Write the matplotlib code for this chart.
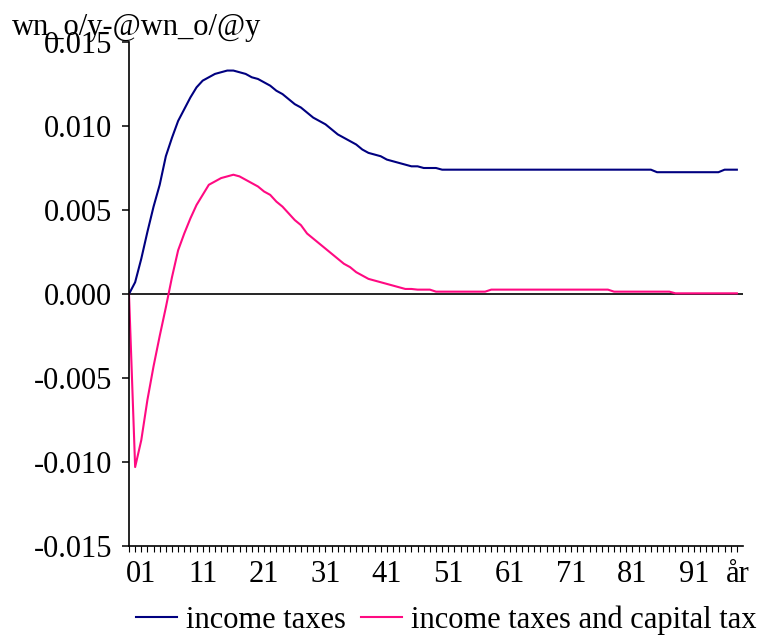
import numpy as np
import matplotlib
matplotlib.use('Agg')
import matplotlib.pyplot as plt
from matplotlib.ticker import FixedLocator, FuncFormatter

plt.rcParams.update({
    'font.family': 'Liberation Serif',
    'font.size': 22,
    'axes.unicode_minus': False,
})

# years 1999..2098, one value per year
years = np.arange(1999, 2099)

income_taxes = [
    0.0000, 0.0007, 0.0021, 0.0037, 0.0052, 0.0065, 0.0082, 0.0093, 0.0103, 0.0110,
    0.0117, 0.0123, 0.0127, 0.0129, 0.0131, 0.0132, 0.0133, 0.0133, 0.0132, 0.0131,
    0.0129, 0.0128, 0.0126, 0.0124, 0.0121, 0.0119, 0.0116, 0.0113, 0.0111, 0.0108,
    0.0105, 0.0103, 0.0101, 0.0098, 0.0095, 0.0093, 0.0091, 0.0089, 0.0086, 0.0084,
    0.0083, 0.0082, 0.0080, 0.0079, 0.0078, 0.0077, 0.0076, 0.0076, 0.0075, 0.0075,
    0.0075, 0.0074,
] + [0.0074] * 34 + [0.00725] * 11 + [0.0074] * 3

income_capital_tax = [
    0.0000, -0.0103, -0.0087, -0.0063, -0.0043, -0.0025, -0.0008, 0.0010, 0.0026, 0.0036,
    0.0045, 0.0053, 0.0059, 0.0065, 0.0067, 0.0069, 0.0070, 0.0071, 0.0070, 0.0068,
    0.0066, 0.0064, 0.0061, 0.0059, 0.0055, 0.0052, 0.0048, 0.0044, 0.0041, 0.0036,
    0.0033, 0.0030, 0.0027, 0.0024, 0.0021, 0.0018, 0.0016, 0.0013, 0.0011, 0.0009,
    0.0008, 0.0007, 0.0006, 0.0005, 0.0004, 0.0003, 0.0003, 0.00026, 0.00026, 0.00026,
] + [0.00014] * 9 + [0.00026] * 20 + [0.00014] * 10 + [0.00004] * 11

label_years = list(range(2001, 2096, 10))
x_labels = [f"{y % 100:02d}" for y in label_years]
y_ticks = [-0.015, -0.010, -0.005, 0.0, 0.005, 0.010, 0.015]

title = 'wn_o/y-@wn_o/@y'
year_label = 'år'
series_names = ['income taxes', 'income taxes and capital tax']
COL_BLUE = '#000080'
COL_PINK = '#ff0a82'

fig = plt.figure(figsize=(7.63, 6.35), dpi=100)
ax = fig.add_axes([129 / 763, 89 / 635, 614 / 763, 504 / 635])

ax.axhline(0, color='black', lw=1.2, zorder=1)
ax.plot(years, income_taxes, color=COL_BLUE, lw=1.5, label=series_names[0], zorder=2)
ax.plot(years, income_capital_tax, color=COL_PINK, lw=1.5, label=series_names[1], zorder=2)

ax.set_xlim(1999, 2099)
ax.set_ylim(-0.015, 0.015)

for s in ('top', 'right'):
    ax.spines[s].set_visible(False)
for s in ('left', 'bottom'):
    ax.spines[s].set_linewidth(1.2)

# "år" sits in the tick-label row at the right end, with no tick of its own
ax.xaxis.set_major_locator(FixedLocator(label_years + [2098.1]))
ax.set_xticklabels(x_labels + [year_label])
ax.xaxis.set_minor_locator(FixedLocator(years))
ax.tick_params(axis='x', which='both', direction='out', length=4.3, width=0.8, pad=6)
ax.xaxis.get_major_ticks()[-1].tick1line.set_visible(False)
ax.set_yticks(y_ticks)
ax.yaxis.set_major_formatter(FuncFormatter(lambda v, p: f"{v:.3f}".replace('-0.000', '0.000')))
ax.tick_params(axis='y', direction='out', length=5, width=1.1, pad=7)

fig.text(12 / 763, 1 - 35 / 635, title, ha='left', va='baseline')

fig.legend(loc='center left', bbox_to_anchor=(136 / 763, 1 - 620 / 635), ncol=2,
           frameon=False, handlelength=1.34, handletextpad=0.3, columnspacing=0.5,
           borderaxespad=0, borderpad=0)

fig.savefig('out.png', dpi=100)
